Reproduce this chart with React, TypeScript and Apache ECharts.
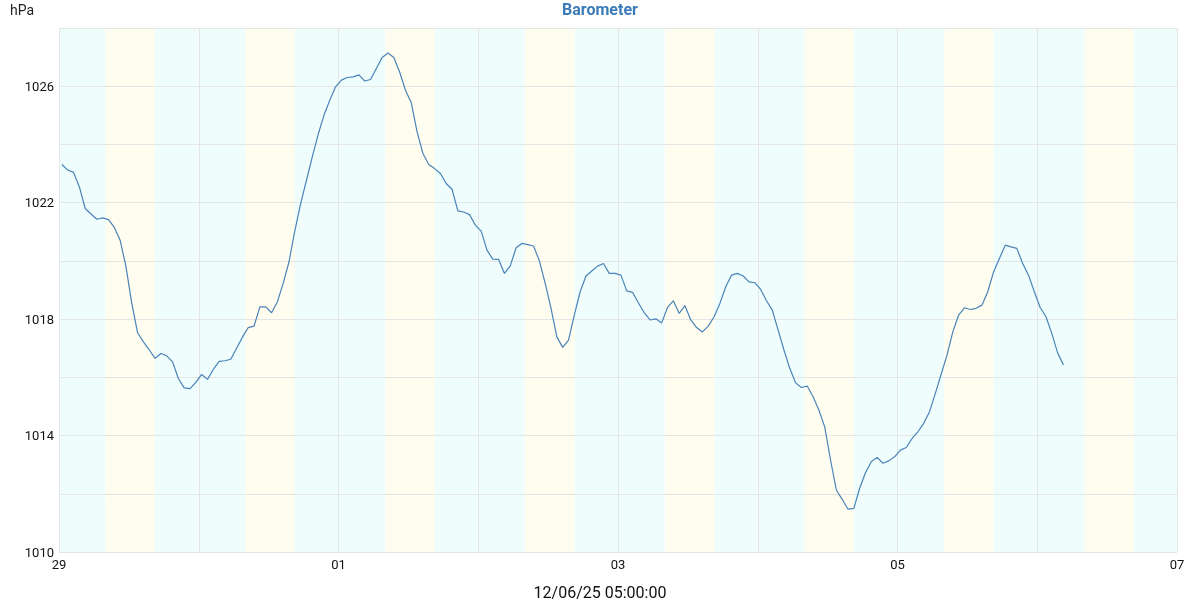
import React, { useEffect, useRef } from 'react';
import * as echarts from 'echarts';

// ---------- data ----------
const chartTitle = 'Barometer';
const unitLabel = 'hPa';
const footerLabel = '12/06/25 05:00:00';

// x axis: hours since 29 Nov 00:00; one sample per hour, first one at 00:30
const firstSampleHour = 0.5;
const pressure = [
  1023.31, 1023.12, 1023.04, 1022.54, 1021.80, 1021.61, 1021.43, 1021.48, 1021.42, 1021.15,
  1020.71, 1019.80, 1018.54, 1017.53, 1017.22, 1016.94, 1016.65, 1016.82, 1016.74, 1016.53,
  1015.96, 1015.64, 1015.61, 1015.83, 1016.10, 1015.93, 1016.27, 1016.55, 1016.57, 1016.62,
  1017.00, 1017.38, 1017.71, 1017.76, 1018.42, 1018.42, 1018.22, 1018.59, 1019.23, 1019.97,
  1021.03, 1021.97, 1022.77, 1023.57, 1024.34, 1025.00, 1025.52, 1025.98, 1026.21, 1026.30,
  1026.32, 1026.39, 1026.18, 1026.23, 1026.61, 1026.99, 1027.14, 1026.99, 1026.49, 1025.86,
  1025.43, 1024.43, 1023.69, 1023.31, 1023.17, 1023.00, 1022.66, 1022.46, 1021.72, 1021.68,
  1021.59, 1021.23, 1021.02, 1020.37, 1020.06, 1020.05, 1019.57, 1019.83, 1020.45, 1020.60,
  1020.56, 1020.51, 1020.00, 1019.23, 1018.37, 1017.39, 1017.03, 1017.28, 1018.14, 1018.94,
  1019.48, 1019.65, 1019.82, 1019.91, 1019.57, 1019.57, 1019.51, 1018.97, 1018.92, 1018.56,
  1018.22, 1017.97, 1018.01, 1017.87, 1018.40, 1018.63, 1018.20, 1018.46, 1017.97, 1017.71,
  1017.56, 1017.76, 1018.08, 1018.54, 1019.11, 1019.51, 1019.57, 1019.48, 1019.28, 1019.25,
  1019.02, 1018.63, 1018.31, 1017.62, 1016.94, 1016.31, 1015.81, 1015.65, 1015.70, 1015.33,
  1014.88, 1014.30, 1013.16, 1012.13, 1011.81, 1011.47, 1011.50, 1012.19, 1012.72, 1013.10,
  1013.25, 1013.05, 1013.13, 1013.27, 1013.50, 1013.59, 1013.90, 1014.13, 1014.42, 1014.82,
  1015.45, 1016.11, 1016.76, 1017.56, 1018.14, 1018.39, 1018.33, 1018.37, 1018.48, 1018.94,
  1019.62, 1020.08, 1020.54, 1020.48, 1020.43, 1019.91, 1019.51, 1018.94, 1018.40, 1018.08,
  1017.51, 1016.84, 1016.42,
];

const dayLabels = ['29', '30', '01', '02', '03', '04', '05', '06', '07'];
// daylight (hours of each day) for the background bands
const sunriseHour = [8.0, 8.0, 8.0, 8.0, 8.05, 8.05, 8.05, 8.15];
const sunsetHour = [16.5, 16.5, 16.55, 16.55, 16.6, 16.55, 16.5, 16.6];

const yMin = 1010;
const yMax = 1028;
const yStep = 2;
const yLabelStep = 4;

// ---------- styles ----------
const FONT = 'Roboto';
const LINE_COLOR = '#4a83b8';
const NIGHT_COLOR = '#effdfd';
const DAY_COLOR = '#fefdef';
const GRID_COLOR = '#e5e5e5';

export default function App() {
  const ref = useRef<HTMLDivElement>(null);

  useEffect(() => {
    if (!ref.current) return;
    const chart = echarts.init(ref.current, undefined, { renderer: 'svg' });

    const bands: number[][] = [];
    for (let d = 0; d < dayLabels.length - 1; d++) {
      const base = d * 24;
      bands.push([base, base + sunriseHour[d], 0]);
      bands.push([base + sunriseHour[d], base + sunsetHour[d], 1]);
      bands.push([base + sunsetHour[d], base + 24, 0]);
    }
    const xMax = (dayLabels.length - 1) * 24;
    const lineData = pressure.map((v, i) => [firstSampleHour + i, v]);

    chart.setOption({
      animation: false,
      textStyle: { fontFamily: FONT },
      grid: { left: 59, right: 23, top: 28, bottom: 48 },
      graphic: [
        {
          type: 'text',
          x: 600,
          y: 9.5,
          style: {
            text: chartTitle,
            fill: '#3b7cb8',
            font: `bold 16px ${FONT}`,
            textAlign: 'center',
            textVerticalAlign: 'middle',
          },
        },
        {
          type: 'text',
          left: 10,
          top: 3,
          style: { text: unitLabel, fill: '#222', font: `14px ${FONT}` },
        },
        {
          type: 'text',
          x: 600,
          y: 592,
          style: {
            text: footerLabel,
            fill: '#111',
            font: `16px ${FONT}`,
            textAlign: 'center',
            textVerticalAlign: 'middle',
          },
        },
      ],
      xAxis: {
        type: 'value',
        min: 0,
        max: xMax,
        interval: 24,
        axisLine: { show: false },
        axisTick: { show: false },
        axisLabel: {
          margin: 6,
          color: '#111',
          fontSize: 13,
          fontFamily: FONT,
          formatter: (v: number) => {
            const d = Math.round(v / 24);
            return d % 2 === 0 ? dayLabels[d] : '';
          },
        },
        splitLine: { show: true, lineStyle: { color: GRID_COLOR, width: 1 } },
      },
      yAxis: {
        type: 'value',
        min: yMin,
        max: yMax,
        interval: yStep,
        axisLine: { show: false },
        axisTick: { show: false },
        axisLabel: {
          margin: 5,
          color: '#111',
          fontSize: 13,
          fontFamily: FONT,
          formatter: (v: number) => ((v - yMin) % yLabelStep === 0 ? String(v) : ''),
        },
        splitLine: { show: true, lineStyle: { color: GRID_COLOR, width: 1 } },
      },
      series: [
        {
          type: 'custom',
          z: -1,
          silent: true,
          data: bands,
          encode: { x: [0, 1] },
          renderItem: (_params: any, api: any) => {
            const p0 = api.coord([api.value(0), yMax]);
            const p1 = api.coord([api.value(1), yMin]);
            return {
              type: 'rect',
              shape: { x: p0[0], y: p0[1], width: p1[0] - p0[0], height: p1[1] - p0[1] },
              style: { fill: api.value(2) ? DAY_COLOR : NIGHT_COLOR },
            };
          },
        },
        {
          type: 'line',
          data: lineData,
          showSymbol: false,
          symbol: 'none',
          lineStyle: { color: LINE_COLOR, width: 1.2 },
          z: 3,
        },
      ],
    });

    return () => chart.dispose();
  }, []);

  return (
    <div
      ref={ref}
      style={{ position: 'fixed', left: 0, top: 0, width: 1200, height: 600 }}
    />
  );
}
